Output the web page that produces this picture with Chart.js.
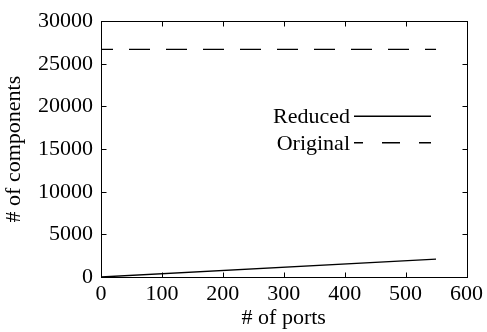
<!DOCTYPE html>
<html>
<head>
<meta charset="utf-8">
<script src="https://cdn.jsdelivr.net/npm/chart.js@4.4.0/dist/chart.umd.min.js"></script>
<style>
  html, body { margin: 0; padding: 0; background: #fff; }
  canvas { display: block; }
</style>
</head>
<body>
<canvas id="graficoPortas" width="487" height="332"></canvas>
<script>
// data
const ports = [0, 550];
const reduced = [0, 2100];
const original = [26700, 26700];
const xTicks = [0, 100, 200, 300, 400, 500, 600];
const yTicks = [0, 5000, 10000, 15000, 20000, 25000, 30000];
const seriesNames = ['Reduced', 'Original'];

const FONT = "'Liberation Serif', 'Times New Roman', serif";
const FSIZE = 22;

// frame with inward ticks on all four sides + legend inside the plot
const framePlugin = {
    id: 'frame',
    afterDatasetsDraw(chart) {
        const { ctx, chartArea: a, scales: { x, y } } = chart;
        const L = Math.round(a.left) + 0.5, R = Math.round(a.right) + 0.5;
        const T = Math.round(a.top) + 0.5, B = Math.round(a.bottom) + 0.5;
        ctx.save();
        ctx.strokeStyle = '#000';
        ctx.lineWidth = 1;
        ctx.strokeRect(L, T, R - L, B - T);
        ctx.beginPath();
        x.ticks.forEach(t => {
            const px = Math.round(x.getPixelForValue(t.value)) + 0.5;
            ctx.moveTo(px, B); ctx.lineTo(px, B - 5);
            ctx.moveTo(px, T); ctx.lineTo(px, T + 5);
        });
        y.ticks.forEach(t => {
            const py = Math.round(y.getPixelForValue(t.value)) + 0.5;
            ctx.moveTo(L, py); ctx.lineTo(L + 5, py);
            ctx.moveTo(R, py); ctx.lineTo(R - 5, py);
        });
        ctx.stroke();

        // legend
        const tx = a.left + 249, s0 = a.left + 253, s1 = a.left + 330;
        const rows = [a.top + 95, a.top + 121.5];
        ctx.font = FSIZE + 'px ' + FONT;
        ctx.fillStyle = '#000';
        ctx.textAlign = 'right';
        ctx.textBaseline = 'alphabetic';
        ctx.lineWidth = 1.4;
        chart.data.datasets.forEach((ds, i) => {
            const ly = rows[i];
            ctx.fillText(ds.label, tx, ly + 7);
            ctx.setLineDash(ds.borderDash.length ? [18, 19] : []);
            ctx.lineDashOffset = 9;
            ctx.beginPath();
            ctx.moveTo(s0, ly);
            ctx.lineTo(s1, ly);
            ctx.stroke();
        });
        ctx.restore();
    }
};

new Chart(document.getElementById('graficoPortas'), {
    type: 'line',
    data: {
        datasets: [
            {
                label: seriesNames[0],
                data: ports.map((p, i) => ({ x: p, y: reduced[i] })),
                borderColor: '#000',
                borderWidth: 1.4,
                borderDash: [],
                pointRadius: 0,
                fill: false
            },
            {
                label: seriesNames[1],
                data: ports.map((p, i) => ({ x: p, y: original[i] })),
                borderColor: '#000',
                borderWidth: 1.4,
                borderDash: [21, 16],
                borderDashOffset: 9,
                pointRadius: 0,
                fill: false
            }
        ]
    },
    options: {
        responsive: false,
        animation: false,
        layout: { padding: { top: 20, right: 19, left: 0, bottom: 0 } },
        plugins: { legend: { display: false }, tooltip: { enabled: false } },
        scales: {
            x: {
                type: 'linear',
                min: 0, max: 600,
                afterBuildTicks: s => { s.ticks = xTicks.map(v => ({ value: v })); },
                afterFit: s => { s.height = 55; },
                grid: { display: false, drawTicks: false },
                border: { display: false },
                ticks: { color: '#000', padding: 4, maxRotation: 0, callback: v => String(v), font: { family: FONT, size: FSIZE } },
                title: { display: true, text: '# of ports', color: '#000', padding: { top: 0, bottom: 1 }, font: { family: FONT, size: FSIZE } }
            },
            y: {
                type: 'linear',
                min: 0, max: 30000,
                afterBuildTicks: s => { s.ticks = yTicks.map(v => ({ value: v })); },
                afterFit: s => { s.width = 101; },
                grid: { display: false, drawTicks: false },
                border: { display: false },
                ticks: { color: '#000', padding: 8, callback: v => String(v), font: { family: FONT, size: FSIZE } },
                title: { display: true, text: '# of components', color: '#000', padding: { top: 1, bottom: 0 }, font: { family: FONT, size: FSIZE } }
            }
        }
    },
    plugins: [framePlugin]
});
</script>
</body>
</html>
